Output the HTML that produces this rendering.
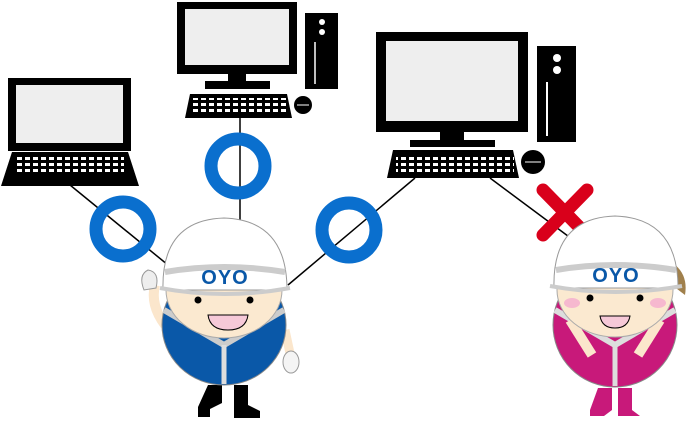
<!DOCTYPE html>
<html><head><meta charset="utf-8"><style>html,body{margin:0;padding:0;background:#fff}svg{display:block}</style></head><body>
<svg width="694" height="421" viewBox="0 0 694 421" xmlns="http://www.w3.org/2000/svg" font-family="Liberation Sans, sans-serif">
<defs>
<pattern id="keys" width="8" height="6" patternUnits="userSpaceOnUse"><rect x="1" y="1" width="5" height="3" fill="#fff"/></pattern>
</defs>
<g stroke="#000" stroke-width="1.5" fill="none">
<line x1="70" y1="185" x2="168" y2="265"/>
<line x1="240" y1="118" x2="240" y2="222"/>
<line x1="415" y1="178" x2="288" y2="285"/>
<line x1="490" y1="178" x2="580" y2="245"/>
</g>
<rect x="8" y="78" width="123" height="73" fill="#000"/>
<rect x="16" y="85" width="107" height="58" fill="#eee"/>
<path d="M12 152 H128 L139 186 H1 Z" fill="#000"/>
<rect x="16" y="157" width="108" height="18" fill="url(#keys)"/>
<rect x="177" y="2" width="120" height="72" fill="#000"/>
<rect x="185" y="9" width="104" height="56" fill="#eee"/>
<rect x="228" y="74" width="18" height="8" fill="#000"/>
<rect x="205" y="81" width="65" height="8" fill="#000"/>
<rect x="305" y="13" width="33" height="76" fill="#000"/>
<circle cx="322" cy="22" r="3" fill="#fff"/><circle cx="322" cy="32" r="3" fill="#fff"/>
<line x1="315" y1="42" x2="315" y2="84" stroke="#fff" stroke-width="1.5"/>
<path d="M190 94 H287 L292 118 H185 Z" fill="#000"/>
<rect x="193" y="98" width="94" height="14" fill="url(#keys)"/>
<circle cx="303" cy="105" r="9" fill="#000"/>
<line x1="297" y1="105" x2="309" y2="105" stroke="#fff" stroke-width="1"/>
<rect x="376" y="32" width="152" height="100" fill="#000"/>
<rect x="386" y="41" width="132" height="80" fill="#eee"/>
<rect x="440" y="132" width="24" height="10" fill="#000"/>
<rect x="410" y="140" width="85" height="7" fill="#000"/>
<rect x="537" y="46" width="39" height="96" fill="#000"/>
<circle cx="557" cy="58" r="4" fill="#fff"/><circle cx="557" cy="70" r="4" fill="#fff"/>
<line x1="547" y1="82" x2="547" y2="136" stroke="#fff" stroke-width="2"/>
<path d="M393 150 H513 L519 178 H387 Z" fill="#000"/>
<rect x="396" y="154" width="118" height="18" fill="url(#keys)"/>
<circle cx="533" cy="162" r="12" fill="#000"/>
<line x1="525" y1="162" x2="541" y2="162" stroke="#fff" stroke-width="1"/>
<g fill="none" stroke="#0a6fce" stroke-width="13">
<circle cx="123" cy="229" r="27"/>
<circle cx="238" cy="166" r="27"/>
<circle cx="349" cy="230" r="27"/>
</g>
<g stroke="#d9001b" stroke-width="13" stroke-linecap="round">
<line x1="543" y1="190" x2="587" y2="235"/>
<line x1="587" y1="190" x2="543" y2="235"/>
</g>
<!-- character 1 -->
<g>
<path d="M208 385 h14 v18 l-12 6 v8 h-12 v-10 z" fill="#000"/>
<path d="M234 385 h14 v20 l12 6 v7 h-26 z" fill="#000"/>
<path d="M155 285 Q150 305 165 325" stroke="#fbe6cc" stroke-width="10" fill="none"/>
<path d="M148 270 q-10 5 -4 20 l12 -2 q4 -16 -8 -18z" fill="#eee" stroke="#999"/>
<path d="M285 330 l6 28" stroke="#fbe6cc" stroke-width="9"/>
<ellipse cx="291" cy="362" rx="8" ry="11" fill="#f4f4f4" stroke="#999"/>
<ellipse cx="224" cy="325" rx="62" ry="60" fill="#0a58a8" stroke="#888"/>
<path d="M164 310 L224 345 L284 310" stroke="#ccc" stroke-width="6" fill="none"/>
<line x1="224" y1="345" x2="224" y2="384" stroke="#ddd" stroke-width="5"/>
<ellipse cx="224" cy="290" rx="58" ry="48" fill="#fbe9d0" stroke="#aaa"/>
<path d="M163 290 Q161 220 224 218 Q287 220 287 290 Z" fill="#fff" stroke="#999"/>
<path d="M160 288 Q224 300 290 288" stroke="#ccc" stroke-width="4" fill="none"/>
<path d="M165 272 Q224 262 285 272" stroke="#ccc" stroke-width="6" fill="none"/>
<text x="225" y="284" text-anchor="middle" font-size="20" font-weight="bold" letter-spacing="1" fill="#0a58a8">OYO</text>
<circle cx="198" cy="300" r="3.5" fill="#000"/><circle cx="250" cy="300" r="3.5" fill="#000"/>
<path d="M208 315 h40 q-2 15 -20 15 q-18 0 -20 -15z" fill="#f6c9d8" stroke="#000"/>
</g>
<!-- character 2 -->
<g>
<path d="M598 388 h14 v22 l-8 6 h-14 v-6 z" fill="#c8197a"/>
<path d="M618 388 h14 v22 l8 6 h-22 z" fill="#c8197a"/>
<path d="M655 255 q35 10 30 40 q-20 -15 -30 -25z" fill="#a0804c"/>
<ellipse cx="615" cy="325" rx="62" ry="62" fill="#c8197a" stroke="#888"/>
<path d="M555 310 L615 345 L675 310" stroke="#ddd" stroke-width="6" fill="none"/>
<line x1="615" y1="345" x2="615" y2="386" stroke="#ddd" stroke-width="5"/>
<path d="M570 320 l22 35" stroke="#fbe6cc" stroke-width="10"/>
<path d="M660 320 l-22 35" stroke="#fbe6cc" stroke-width="10"/>
<ellipse cx="615" cy="290" rx="58" ry="47" fill="#fbe9d0" stroke="#aaa"/>
<ellipse cx="572" cy="303" rx="8" ry="5" fill="#f6b8cf"/>
<ellipse cx="658" cy="303" rx="8" ry="5" fill="#f6b8cf"/>
<path d="M554 288 Q552 218 615 216 Q678 218 678 288 Z" fill="#fff" stroke="#999"/>
<path d="M550 286 Q615 298 682 286" stroke="#ccc" stroke-width="4" fill="none"/>
<path d="M556 270 Q615 260 676 270" stroke="#ccc" stroke-width="6" fill="none"/>
<text x="616" y="282" text-anchor="middle" font-size="20" font-weight="bold" letter-spacing="1" fill="#0a58a8">OYO</text>
<circle cx="590" cy="298" r="3.5" fill="#000"/><circle cx="640" cy="298" r="3.5" fill="#000"/>
<path d="M600 316 h30 q-2 12 -15 12 q-13 0 -15 -12z" fill="#f6c9d8" stroke="#000"/>
</g>
</svg>
</body></html>
